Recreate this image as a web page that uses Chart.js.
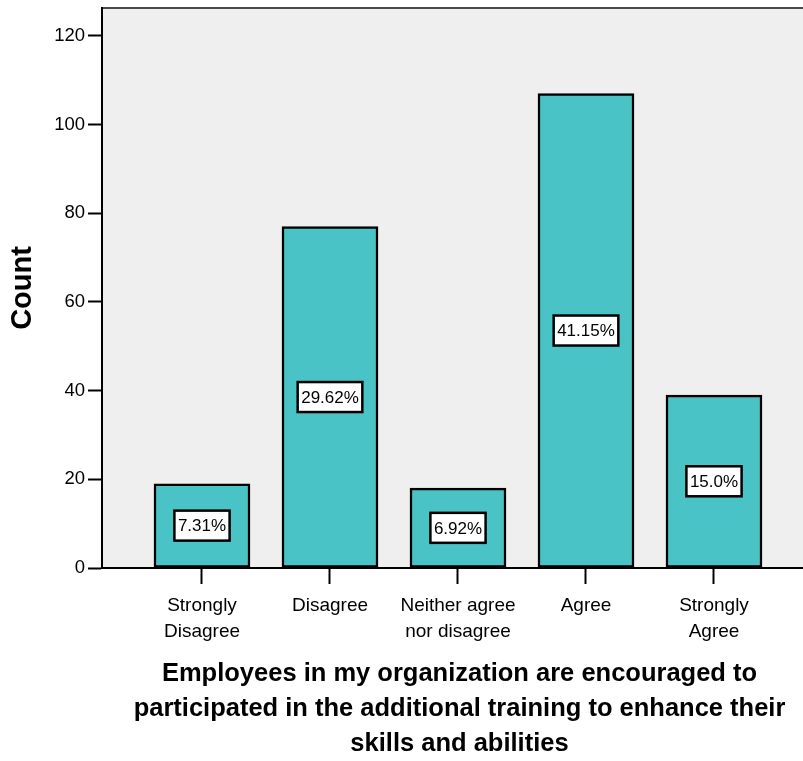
<!DOCTYPE html>
<html>
<head>
<meta charset="utf-8">
<script src="https://cdn.jsdelivr.net/npm/chart.js@4/dist/chart.umd.min.js"></script>
<style>
  html, body { margin: 0; padding: 0; overflow: hidden; background: #fff; }
  #wrap { width: 817px; height: 761px; }
</style>
</head>
<body>
<div id="wrap"><canvas id="chart" width="817" height="761"></canvas></div>
<script>
const categories = [
  ['Strongly', 'Disagree'],
  ['Disagree'],
  ['Neither agree', 'nor disagree'],
  ['Agree'],
  ['Strongly', 'Agree'],
];
const counts = [19, 77, 18, 107, 39];
const percentLabels = ['7.31%', '29.62%', '6.92%', '41.15%', '15.0%'];
const yTicks = [0, 20, 40, 60, 80, 100, 120];
const xTitle = [
  'Employees in my organization are encouraged to',
  'participated in the additional training to enhance their',
  'skills and abilities',
];

const regular = '"Liberation Sans", Arial, sans-serif';

const plotBackground = {
  id: 'plotBackground',
  beforeDraw(chart) {
    const { ctx, chartArea } = chart;
    ctx.save();
    ctx.fillStyle = '#efefef';
    ctx.fillRect(chartArea.left, chartArea.top, chartArea.right - chartArea.left, chartArea.bottom - chartArea.top);
    ctx.strokeStyle = '#4a4a4a';
    ctx.lineWidth = 2;
    ctx.beginPath();
    ctx.moveTo(chartArea.left, chartArea.top);
    ctx.lineTo(chartArea.right, chartArea.top);
    ctx.stroke();
    ctx.restore();
  },
};

const percentBoxes = {
  id: 'percentBoxes',
  afterDatasetsDraw(chart) {
    const { ctx } = chart;
    const bars = chart.getDatasetMeta(0).data;
    ctx.save();
    ctx.font = '17px ' + regular;
    ctx.textAlign = 'center';
    ctx.textBaseline = 'middle';
    bars.forEach((bar, i) => {
      const label = percentLabels[i];
      const mid = (bar.y + bar.base) / 2;
      const w = ctx.measureText(label).width + 7;
      const h = 30;
      ctx.fillStyle = '#fff';
      ctx.fillRect(bar.x - w / 2, mid - h / 2, w, h);
      ctx.strokeStyle = '#000';
      ctx.lineWidth = 2.5;
      ctx.strokeRect(bar.x - w / 2, mid - h / 2, w, h);
      ctx.fillStyle = '#000';
      ctx.fillText(label, bar.x, mid + 1);
    });
    ctx.restore();
  },
};

new Chart(document.getElementById('chart'), {
  type: 'bar',
  data: {
    datasets: [
      {
        data: counts.map((c, i) => ({ x: i + 1, y: c })),
        backgroundColor: '#49c3c6',
        borderColor: '#000',
        borderWidth: 2.5,
        borderSkipped: false,
        barThickness: 96,
      },
    ],
  },
  options: {
    responsive: false,
    animation: false,
    layout: { padding: { top: 8, left: 0, right: 0, bottom: 0 } },
    plugins: {
      legend: { display: false },
      tooltip: { enabled: false },
    },
    scales: {
      x: {
        type: 'linear',
        offset: false,
        min: 0.21875,
        max: 5.8047,
        afterBuildTicks: (scale) => {
          scale.ticks = categories.map((_, i) => ({ value: i + 1 }));
        },
        afterFit: (scale) => {
          scale.height = 193;
          scale.paddingLeft = 0;
          scale.paddingRight = 0;
        },
        ticks: {
          autoSkip: false,
          maxRotation: 0,
          padding: 9,
          color: '#000',
          font: { family: regular, size: 19, lineHeight: 1.35 },
          callback: (value) => categories[value - 1] || '',
        },
        grid: {
          offset: false,
          drawOnChartArea: false,
          drawTicks: true,
          tickLength: 16,
          tickWidth: 2,
          tickColor: '#000',
        },
        border: { color: '#000', width: 2 },
        title: {
          display: true,
          text: xTitle,
          color: '#000',
          padding: { top: 0, bottom: 0 },
          font: { family: regular, size: 25.5, weight: 'bold', lineHeight: '35px' },
        },
      },
      y: {
        min: 0,
        max: 126.3,
        afterBuildTicks: (scale) => {
          scale.ticks = yTicks.map((v) => ({ value: v }));
        },
        afterFit: (scale) => {
          scale.width = 102;
          scale.paddingTop = 0;
          scale.paddingBottom = 0;
        },
        ticks: {
          padding: 3,
          color: '#000',
          font: { family: regular, size: 18.5 },
        },
        grid: {
          drawOnChartArea: false,
          drawTicks: true,
          tickLength: 14,
          tickWidth: 2,
          tickColor: '#000',
        },
        border: { color: '#000', width: 2 },
        title: {
          display: true,
          text: 'Count',
          color: '#000',
          padding: { top: 6, bottom: 0 },
          font: { family: regular, size: 29, weight: 'bold' },
        },
      },
    },
  },
  plugins: [plotBackground, percentBoxes],
});
</script>
</body>
</html>
